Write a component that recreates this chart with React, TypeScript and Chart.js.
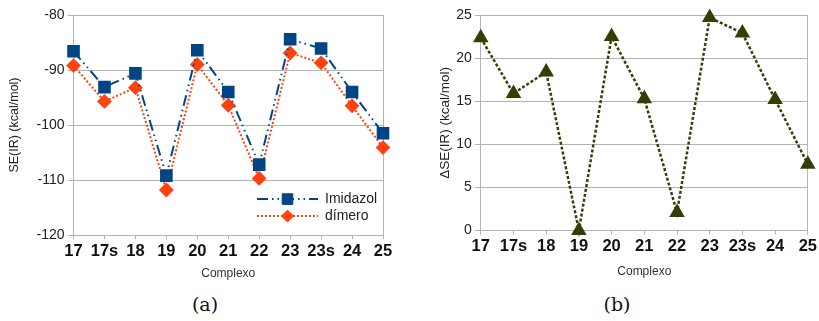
import React, { useEffect, useRef } from "react";
import { Chart, registerables } from "chart.js";
import { drawPoint } from "chart.js/helpers";

Chart.register(...registerables);

const categories = ["17", "17s", "18", "19", "20", "21", "22", "23", "23s", "24", "25"];
const imidazol = [-86.6, -93.1, -90.6, -109.2, -86.4, -94.0, -107.2, -84.4, -86.1, -94.0, -101.5];
const dimero = [-89.2, -95.7, -93.2, -111.8, -89.0, -96.4, -109.7, -86.9, -88.7, -96.5, -104.1];
const deltaSE = [22.35, 15.9, 18.4, 0, 22.5, 15.3, 2.1, 24.7, 22.9, 15.2, 7.7];

const leftTitle = "SE(IR) (kcal/mol)";
const rightTitle = "\u0394SE(IR) (kcal/mol)";
const xTitle = "Complexo";

const GRID = "#b3b3b3";
const FONT = "'Liberation Sans', Arial, sans-serif";

const legendPlugin = {
  id: "innerLegend",
  afterDatasetsDraw(chart: any) {
    if (!chart.options.plugins.innerLegend?.show) return;
    const { ctx, chartArea } = chart;
    const rows = [36, 19];
    chart.data.datasets.forEach((ds: any, i: number) => {
      const y = chartArea.bottom - rows[i];
      const x0 = chartArea.right - 126;
      const x1 = chartArea.right - 65;
      ctx.save();
      ctx.strokeStyle = ds.borderColor;
      ctx.lineWidth = ds.borderWidth;
      ctx.setLineDash(ds.borderDash || []);
      ctx.beginPath();
      ctx.moveTo(x0, y);
      ctx.lineTo(x1, y);
      ctx.stroke();
      ctx.setLineDash([]);
      ctx.fillStyle = ds.pointBackgroundColor;
      ctx.strokeStyle = ds.pointBorderColor;
      ctx.lineWidth = 1;
      drawPoint(ctx, { pointStyle: ds.pointStyle, radius: ds.pointRadius, borderWidth: 1, rotation: 0 }, (x0 + x1) / 2, y);
      ctx.fillStyle = "#222";
      ctx.font = `14px ${FONT}`;
      ctx.textBaseline = "middle";
      ctx.textAlign = "left";
      ctx.fillText(ds.label, chartArea.right - 58, y);
      ctx.restore();
    });
  },
};

function baseScales(
  min: number,
  max: number,
  step: number,
  title: string,
  yTitleSize: number,
  yTitleInner: number,
  xTitleTop: number,
  xTitleBottom: number
) {
  return {
    x: {
      type: "category" as const,
      offset: false,
      grid: { display: true, drawOnChartArea: false, drawTicks: true, tickLength: 4, color: GRID },
      border: { display: true, color: GRID, width: 1 },
      ticks: {
        color: "#111",
        font: { family: FONT, size: 16.5, weight: "bold" as const },
        padding: 2,
        maxRotation: 0,
        autoSkip: false,
      },
      title: {
        display: true,
        text: xTitle,
        color: "#333",
        font: { family: FONT, size: 12 },
        padding: { top: xTitleTop, bottom: xTitleBottom },
      },
    },
    y: {
      min,
      max,
      ticks: { stepSize: step, color: "#222", font: { family: FONT, size: 14 }, padding: 3 },
      grid: { color: GRID, tickLength: 6 },
      border: { display: true, color: GRID },
      title: {
        display: true,
        text: title,
        color: "#222",
        font: { family: FONT, size: yTitleSize },
        padding: { top: 0, bottom: yTitleInner },
      },
    },
    y2: {
      position: "right" as const,
      min,
      max,
      ticks: { display: false },
      grid: { display: false, drawTicks: false },
      border: { display: true, color: GRID },
    },
  };
}

function LeftChart() {
  const ref = useRef<HTMLCanvasElement>(null);
  useEffect(() => {
    const chart = new Chart(ref.current!, {
      type: "line",
      data: {
        labels: categories,
        datasets: [
          {
            label: "Imidazol",
            data: imidazol,
            borderColor: "#004586",
            backgroundColor: "#004586",
            pointBackgroundColor: "#004586",
            pointBorderColor: "#004586",
            borderWidth: 2,
            borderDash: [11, 4, 1.5, 4, 1.5, 4],
            pointStyle: "rect",
            pointRadius: 7.5,
            tension: 0,
            clip: false,
          } as any,
          {
            label: "dímero",
            data: dimero,
            borderColor: "#ff420e",
            backgroundColor: "#ff420e",
            pointBackgroundColor: "#ff420e",
            pointBorderColor: "#ff420e",
            borderWidth: 2,
            borderDash: [2, 2],
            pointStyle: "rectRot",
            pointRadius: 6,
            tension: 0,
            clip: false,
          } as any,
        ],
      },
      options: {
        animation: false,
        responsive: false,
        devicePixelRatio: 1,
        layout: { padding: { left: 7.5, top: 15, right: 17, bottom: 0 } },
        plugins: { legend: { display: false }, tooltip: { enabled: false }, innerLegend: { show: true } } as any,
        scales: baseScales(-120, -80, 10, leftTitle, 12.5, 11, 3.9, 0.8) as any,
      },
      plugins: [legendPlugin],
    });
    return () => chart.destroy();
  }, []);
  return <canvas ref={ref} width={400} height={282} />;
}

function RightChart() {
  const ref = useRef<HTMLCanvasElement>(null);
  useEffect(() => {
    const chart = new Chart(ref.current!, {
      type: "line",
      data: {
        labels: categories,
        datasets: [
          {
            label: "ΔSE",
            data: deltaSE,
            borderColor: "#314004",
            backgroundColor: "#314004",
            pointBackgroundColor: "#314004",
            pointBorderColor: "#314004",
            borderWidth: 2.5,
            borderDash: [3, 2],
            pointStyle: "triangle",
            pointRadius: 6.5,
            tension: 0,
            clip: false,
          } as any,
        ],
      },
      options: {
        animation: false,
        responsive: false,
        devicePixelRatio: 1,
        layout: { padding: { left: 27, top: 15, right: 0, bottom: 1 } },
        plugins: { legend: { display: false }, tooltip: { enabled: false } },
        scales: baseScales(0, 25, 5, rightTitle, 13.5, 0, 6.4, 1.8) as any,
      },
    });
    return () => chart.destroy();
  }, []);
  return <canvas ref={ref} width={409} height={282} />;
}

export default function App() {
  const cap: React.CSSProperties = {
    position: "absolute",
    top: 293,
    fontFamily: "'DejaVu Serif', 'Liberation Serif', serif",
    fontSize: 19,
    color: "#111",
    width: 60,
    textAlign: "center",
  };
  return (
    <div style={{ position: "fixed", left: 0, top: 0, width: 819, height: 321, background: "#fff" }}>
      <div style={{ position: "absolute", left: 0, top: 0 }}>
        <LeftChart />
      </div>
      <div style={{ position: "absolute", left: 410, top: 0 }}>
        <RightChart />
      </div>
      <div style={{ ...cap, left: 175 }}>(a)</div>
      <div style={{ ...cap, left: 587 }}>(b)</div>
    </div>
  );
}
